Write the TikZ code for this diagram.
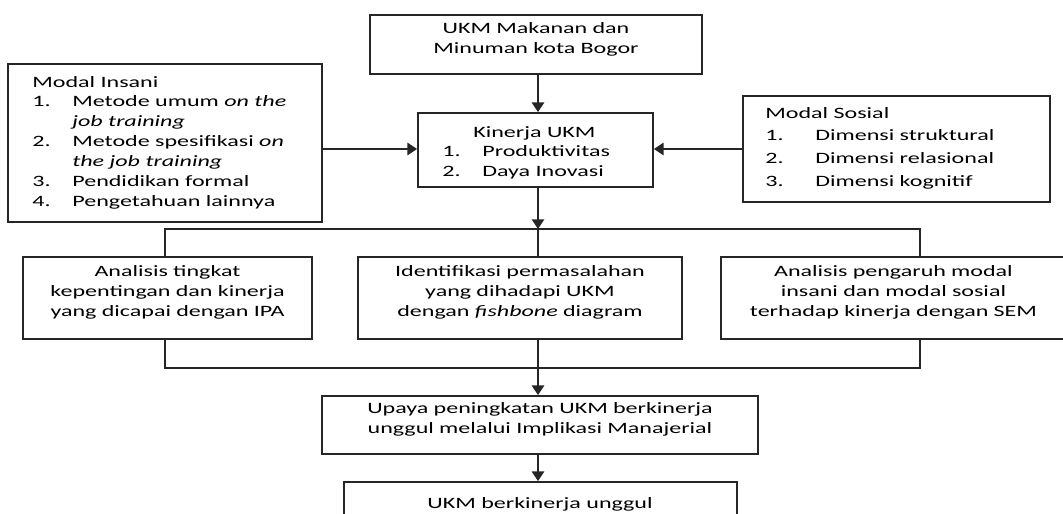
\documentclass[tikz,border=0pt]{standalone}
\usepackage{fontspec}
\setmainfont{Carlito}[FakeStretch=1.52]
\usetikzlibrary{arrows.meta,fit}
\begin{document}
\begin{tikzpicture}[x=0.02cm,y=-0.02cm,
  box/.style={draw=black!85, line width=1pt, inner sep=0pt},
  txt/.style={font=\fontsize{9}{11.34}\selectfont, text=black, align=center},
  conn/.style={line width=1pt, draw=black!85},
  arr/.style={conn, -{Triangle[width=7pt,length=5.5pt]}}]
\useasboundingbox (0,0) rectangle (1063,514);

% boxes
\node[box, fit={(370,15) (702,74)}, txt] (top) {UKM Makanan dan\\Minuman kota Bogor};
\node[box, fit={(418,113) (653,187)}] (kin) {};
\node[box, fit={(8,64) (322,222)}] (ins) {};
\node[box, fit={(743,96) (1050,202)}] (sos) {};
\node[box, fit={(23,257) (312,339)}, txt] (ipa) {Analisis tingkat\\kepentingan dan kinerja\\yang dicapai dengan IPA};
\node[box, fit={(358,257) (682,339)}, txt] (fish) {Identifikasi permasalahan\\yang dihadapi UKM\\dengan \textit{fishbone} diagram};
\node[box, fit={(721,257) (1066,339)}, txt] (sem) {Analisis pengaruh modal\\insani dan modal sosial\\terhadap kinerja dengan SEM};
\node[box, fit={(322,396) (758,454)}, txt] (upaya) {Upaya peningkatan UKM berkinerja\\unggul melalui Implikasi Manajerial};
\node[box, fit={(344,482) (737,530)}] (final) {};
\node[txt, anchor=base] (finalT) at (540,508) {UKM berkinerja unggul};

% list texts
\node[txt, anchor=base west, inner sep=0pt, align=left] (kinT) at (442,137)
  {\begin{tabular}[t]{@{}p{0.8cm}@{}l@{}}
   \multicolumn{2}{@{}l@{}}{\hspace{0.62cm}Kinerja UKM}\\
   1. & Produktivitas\\
   2. & Daya Inovasi
   \end{tabular}};
\node[txt, anchor=base west, inner sep=0pt, align=left] (insT) at (32,87)
  {\begin{tabular}[t]{@{}p{0.8cm}@{}l@{}}
   \multicolumn{2}{@{}l@{}}{Modal Insani}\\
   1. & Metode umum \textit{on the}\\
      & \textit{job training}\\
   2. & Metode spesifikasi \textit{on}\\
      & \textit{the job training}\\
   3. & Pendidikan formal\\
   4. & Pengetahuan lainnya
   \end{tabular}};
\node[txt, font=\fontsize{9}{13.04}\selectfont, anchor=base west, inner sep=0pt, align=left] (sosT) at (765,118)
  {\begin{tabular}[t]{@{}p{1.0cm}@{}l@{}}
   \multicolumn{2}{@{}l@{}}{Modal Sosial}\\
   1. & Dimensi struktural\\
   2. & Dimensi relasional\\
   3. & Dimensi kognitif
   \end{tabular}};

% junction coordinates
\coordinate (split) at (538,229);
\coordinate (splitL) at (165,229);
\coordinate (splitR) at (920,229);
\coordinate (merge) at (538,368);
\coordinate (mergeL) at (165,368);
\coordinate (mergeR) at (920,368);

% connectors
\draw[arr] (top.south -| split) -- (kin.north -| split);
\draw[arr] (ins.east |- 0,149) -- (kin.west |- 0,149);
\draw[arr] (sos.west |- 0,149) -- (kin.east |- 0,149);
\draw[arr] (kin.south -| split) -- (split);
\draw[conn] (ipa.north -| splitL) -- (splitL) -- (splitR) -- (sem.north -| splitR);
\draw[conn] (split) -- (fish.north -| split);
\draw[conn] (ipa.south -| mergeL) -- (mergeL) -- (mergeR) -- (sem.south -| mergeR);
\draw[conn] (fish.south -| merge) -- (merge);
\draw[arr] (merge) -- (upaya.north -| merge);
\draw[arr] (upaya.south -| merge) -- (final.north -| merge);
\end{tikzpicture}
\end{document}
